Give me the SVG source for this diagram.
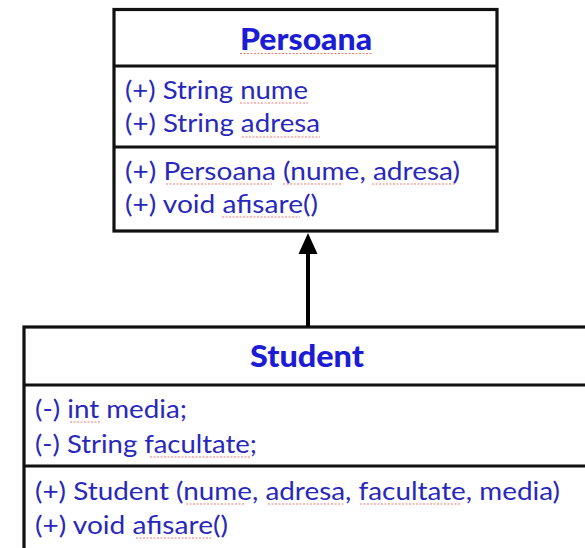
<svg xmlns="http://www.w3.org/2000/svg" width="585" height="548" viewBox="0 0 585 548">
  <style>
    .box { fill: #ffffff; stroke: #111111; stroke-width: 3.2; }
    .sep { stroke: #111111; stroke-width: 3.2; }
    .title { font-family: Lato, "Open Sans", "Liberation Sans", sans-serif; font-weight: 900; font-size: 30px; fill: #1c1cd4; }
    .member { font-family: Lato, "Open Sans", "Liberation Sans", sans-serif; font-size: 25.5px; fill: #2828bc; }
    .squiggle { fill: none; stroke: #e0463c; stroke-width: 1.2; stroke-dasharray: 2 1.5; opacity: 0.7; }
    .link { stroke: #000000; stroke-width: 4; }
  </style>
  <rect width="585" height="548" fill="#ffffff"/>

  <!-- Base class -->
  <g id="persoana">
    <rect class="box" x="114" y="9.5" width="383" height="221.5"/>
    <line class="sep" x1="114" y1="66" x2="497" y2="66"/>
    <line class="sep" x1="114" y1="147" x2="497" y2="147"/>
    <text class="title" x="240" y="50" textLength="132" lengthAdjust="spacingAndGlyphs">Persoana</text>
    <text class="member" x="125" y="99" textLength="183" lengthAdjust="spacingAndGlyphs">(+) String nume</text>
    <text class="member" x="125" y="132" textLength="195" lengthAdjust="spacingAndGlyphs">(+) String adresa</text>
    <text class="member" x="125" y="180" textLength="335" lengthAdjust="spacingAndGlyphs">(+) Persoana (nume, adresa)</text>
    <text class="member" x="125" y="213" textLength="193" lengthAdjust="spacingAndGlyphs">(+) void afisare()</text>
    <path class="squiggle" d="M240 53.5 H372 M240 103 H308 M242 137 H320 M166 184 H272 M283 184 H343 M372 184 H455 M222 217 H300"/>
  </g>

  <!-- Derived class -->
  <g id="student">
    <rect class="box" x="24" y="327" width="600" height="260"/>
    <line class="sep" x1="24" y1="385" x2="585" y2="385"/>
    <line class="sep" x1="24" y1="466" x2="585" y2="466"/>
    <text class="title" x="250" y="367" textLength="114" lengthAdjust="spacingAndGlyphs">Student</text>
    <text class="member" x="35" y="418" textLength="152" lengthAdjust="spacingAndGlyphs">(-) int media;</text>
    <text class="member" x="35" y="453" textLength="222" lengthAdjust="spacingAndGlyphs">(-) String facultate;</text>
    <text class="member" x="35" y="500" textLength="525" lengthAdjust="spacingAndGlyphs">(+) Student (nume, adresa, facultate, media)</text>
    <text class="member" x="35" y="534" textLength="193" lengthAdjust="spacingAndGlyphs">(+) void afisare()</text>
    <path class="squiggle" d="M70 422 H100 M150 457 H250 M186 504 H244 M268 504 H344 M360 504 H460 M136 538 H211"/>
  </g>

  <!-- Inheritance connector -->
  <g id="connectors">
    <line class="link" x1="308" y1="327" x2="308" y2="250"/>
    <polygon points="308,233 298.5,254 317.5,254" fill="#000000"/>
  </g>
</svg>
